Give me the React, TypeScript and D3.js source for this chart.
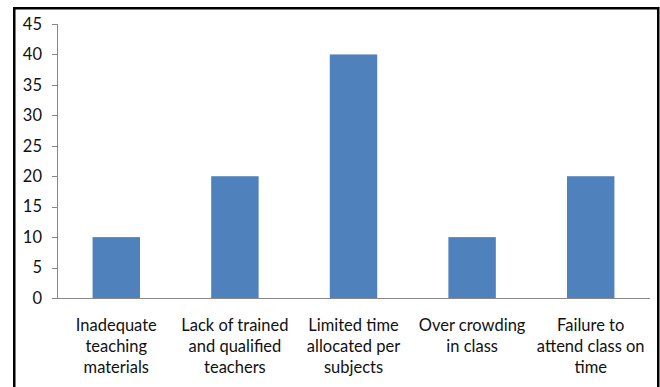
import React from "react";
import * as d3 from "d3";

const categories: string[][] = [
  ["Inadequate", "teaching", "materials"],
  ["Lack of trained", "and qualified", "teachers"],
  ["Limited time", "allocated per", "subjects"],
  ["Over crowding", "in class"],
  ["Failure to", "attend class on", "time"],
];
const values: number[] = [10, 20, 40, 10, 20];
const yTicks: number[] = [0, 5, 10, 15, 20, 25, 30, 35, 40, 45];

const W = 660;
const H = 387;
const plot = { left: 57, right: 650, top: 24, bottom: 298 };
const font = "Lato, 'Open Sans', sans-serif";

export default function App() {
  const keys = categories.map((_, i) => String(i));
  const x = d3.scaleBand<string>().domain(keys).range([plot.left, plot.right]).paddingInner(0.6).paddingOuter(0.3);
  const y = d3.scaleLinear().domain([0, 45]).range([plot.bottom, plot.top]);

  return (
    <svg width={W} height={H} style={{ position: "absolute", left: 0, top: 0, display: "block" }}>
      <rect x={0} y={0} width={W} height={H} fill="#fff" />
      <rect x={14.25} y={8.25} width={644} height={H + 10} fill="none" stroke="#000" strokeWidth={2.5} />
      {values.map((v, i) => (
        <rect key={i} x={x(String(i))} y={y(v)} width={x.bandwidth()} height={y(0) - y(v)} fill="#4F81BD" />
      ))}
      <line x1={plot.left + 0.5} x2={plot.left + 0.5} y1={plot.top} y2={plot.bottom} stroke="#888" />
      <line x1={plot.left} x2={plot.right} y1={plot.bottom + 0.5} y2={plot.bottom + 0.5} stroke="#888" />
      {yTicks.map((t) => (
        <g key={t}>
          <line x1={plot.left - 5} x2={plot.left} y1={Math.round(y(t)) + 0.5} y2={Math.round(y(t)) + 0.5} stroke="#888" />
          <text x={42} y={y(t)} dy="0.35em" textAnchor="end" fontFamily={font} fontSize={16.5} fill="#111">
            {t}
          </text>
        </g>
      ))}
      {categories.map((lines, i) => {
        const cx = (x(String(i)) as number) + x.bandwidth() / 2;
        return (
          <text key={i} x={cx} textAnchor="middle" fontFamily={font} fontSize={16.5} fill="#111">
            {lines.map((l, j) => (
              <tspan key={j} x={cx} y={331 + j * 21}>
                {l}
              </tspan>
            ))}
          </text>
        );
      })}
    </svg>
  );
}
